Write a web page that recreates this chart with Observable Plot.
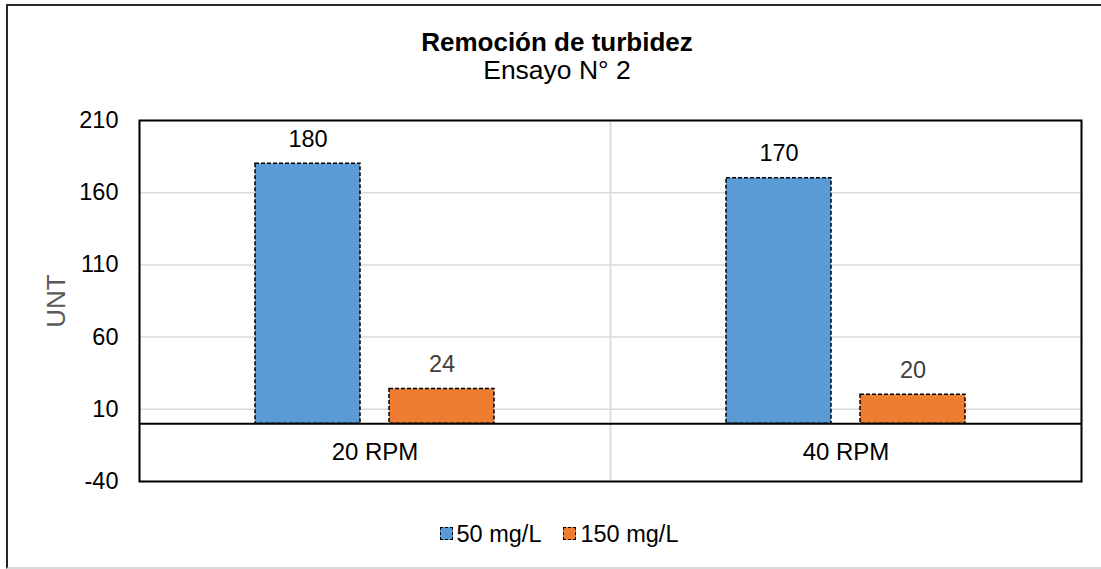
<!DOCTYPE html>
<html>
<head>
<meta charset="utf-8">
<script src="https://cdn.jsdelivr.net/npm/d3@7"></script>
<script src="https://cdn.jsdelivr.net/npm/@observablehq/plot@0.6"></script>
<style>
  html, body { margin: 0; padding: 0; background: #fff; }
  body { font-family: "Liberation Sans", Arial, sans-serif; }
  #wrap { position: relative; width: 1101px; height: 569px; overflow: hidden; }
  #box { position: absolute; left: 6px; top: 4px; width: 1120px; height: 561px;
         border-top: 2px solid #262626; border-left: 2px solid #262626; border-bottom: 2px solid #d9d9d9; }
  #head { position: absolute; left: 0; top: 0; width: 1114px; height: 100px; text-align: center; color: #000; }
  #title { position: absolute; left: 0; width: 100%; top: 27px; font-size: 26px; font-weight: bold; line-height: 30px; }
  #subtitle { position: absolute; left: 0; width: 100%; top: 55px; font-size: 26.5px; line-height: 30px; }
  #chart { position: absolute; left: 0; top: 100px; }
  #legend { position: absolute; left: 0; top: 518px; width: 1118px; text-align: center; font-size: 23.5px; line-height: 28px; color: #000; }
  .item { display: inline-flex; align-items: center; margin: 0 11px; }
  .sw { display: inline-block; width: 11px; height: 11px; border: 1.4px dashed #000; margin-right: 4px; }
</style>
</head>
<body>
<div id="wrap">
  <div id="box"></div>
  <div id="head"><div id="title"></div><div id="subtitle"></div></div>
  <div id="chart"></div>
  <div id="legend"></div>
</div>
<script>
const titleText = "Remoción de turbidez";
const subtitleText = "Ensayo N° 2";
const yLabel = "UNT";
const categories = ["20 RPM", "40 RPM"];
const series = ["50 mg/L", "150 mg/L"];
const values50 = [180, 170];
const values150 = [24, 20];
const yTicks = [-40, 10, 60, 110, 160, 210];
const gridTicks = [10, 60, 110, 160];
const colors = ["#5b9bd5", "#ed7d31"];
const labelColors = ["#000000", "#404040"];

const data = [];
categories.forEach((c, i) => {
  data.push({rpm: c, dose: series[0], value: values50[i]});
  data.push({rpm: c, dose: series[1], value: values150[i]});
});

document.getElementById("title").textContent = titleText;
document.getElementById("subtitle").textContent = subtitleText;

const yMin = d3.min(yTicks), yMax = d3.max(yTicks);

const chart = Plot.plot({
  width: 1101,
  height: 400,
  marginTop: 20,
  marginBottom: 19,
  marginLeft: 139,
  marginRight: 20,
  style: {fontFamily: "Liberation Sans, Arial, sans-serif", background: "transparent"},
  fx: {domain: categories, padding: 0, axis: null},
  x: {domain: series, paddingInner: 0.213, paddingOuter: 0.855, axis: null},
  y: {domain: [yMin, yMax], axis: null},
  color: {domain: series, range: colors},
  marks: [
    Plot.gridY(gridTicks, {stroke: "#d9d9d9", strokeOpacity: 1, strokeWidth: 1.5}),
    Plot.frame({stroke: "#d9d9d9", strokeWidth: 1.5}),
    Plot.barY(data, {fx: "rpm", x: "dose", y: "value", fill: "dose",
      stroke: "#000", strokeWidth: 1.5, strokeDasharray: "4,2"}),
    Plot.ruleY([0], {stroke: "#000", strokeWidth: 1.8}),
    Plot.text(data, {fx: "rpm", x: "dose", y: "value", text: d => String(d.value),
      fill: d => labelColors[series.indexOf(d.dose)], fontSize: 23.5, lineAnchor: "bottom", dy: -17}),
    Plot.text(categories, {fx: d => d, y: () => yMin / 2, text: d => d,
      fill: "#000", fontSize: 24, lineAnchor: "middle"}),
    Plot.axisY(yTicks, {anchor: "left", tickSize: 0, tickPadding: 21, tickFormat: d => String(d),
      fontSize: 23.5, fill: "#000", label: null}),
    Plot.text([yLabel], {facet: "super", frameAnchor: "left", dx: -83, rotate: -90,
      text: d => d, fill: "#595959", fontSize: 26, textAnchor: "middle", lineAnchor: "middle"}),
    Plot.frame({facet: "super", stroke: "#000", strokeWidth: 2})
  ]
});
document.getElementById("chart").appendChild(chart);

const legend = document.getElementById("legend");
series.forEach((s, i) => {
  const item = document.createElement("span");
  item.className = "item";
  const sw = document.createElement("span");
  sw.className = "sw";
  sw.style.background = colors[i];
  const t = document.createElement("span");
  t.textContent = s;
  item.appendChild(sw);
  item.appendChild(t);
  legend.appendChild(item);
});
</script>
</body>
</html>
